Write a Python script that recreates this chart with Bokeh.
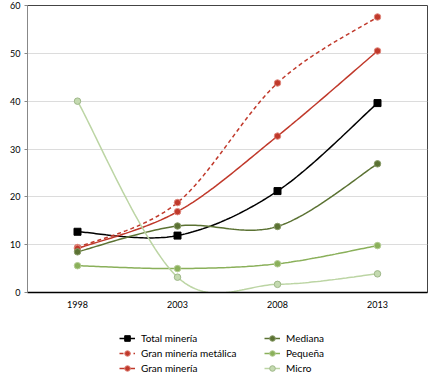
import numpy as np
from bokeh.plotting import figure
from bokeh.layouts import column
from bokeh.models import Range1d, FixedTicker, Legend, LegendItem
from bokeh.embed import file_html
from bokeh.resources import INLINE

years = [1998, 2003, 2008, 2013]
total_mineria = [12.7, 11.9, 21.2, 39.6]
gran_metalica = [9.4, 18.8, 43.8, 57.6]
gran_mineria = [9.2, 16.9, 32.7, 50.5]
mediana = [8.5, 13.9, 13.8, 26.9]
pequena = [5.6, 5.0, 6.0, 9.8]
micro = [40.0, 3.2, 1.7, 3.9]
y_ticks = [0, 10, 20, 30, 40, 50, 60]

FONT = "Lato"


def smooth(xs, ys, n=40):
    xs = np.asarray(xs, float)
    ys = np.asarray(ys, float)
    px = np.concatenate([[xs[0]], xs, [xs[-1]]])
    py = np.concatenate([[ys[0]], ys, [ys[-1]]])
    ox, oy = [], []
    t = np.linspace(0, 1, n)
    for i in range(1, len(px) - 2):
        x0, x1, x2, x3 = px[i - 1], px[i], px[i + 1], px[i + 2]
        y0, y1, y2, y3 = py[i - 1], py[i], py[i + 1], py[i + 2]
        cx1 = x1 + (x2 - x0) / 6
        cy1 = y1 + (y2 - y0) / 6
        cx2 = x2 - (x3 - x1) / 6
        cy2 = y2 - (y3 - y1) / 6
        bx = (1 - t) ** 3 * x1 + 3 * (1 - t) ** 2 * t * cx1 + 3 * (1 - t) * t ** 2 * cx2 + t ** 3 * x2
        by = (1 - t) ** 3 * y1 + 3 * (1 - t) ** 2 * t * cy1 + 3 * (1 - t) * t ** 2 * cy2 + t ** 3 * y2
        ox.extend(bx if i == 1 else bx[1:])
        oy.extend(by if i == 1 else by[1:])
    return ox, oy


p = figure(frame_width=400, frame_height=287, output_backend="svg", toolbar_location=None,
           x_range=Range1d(1995.5, 2015.5), y_range=Range1d(0, 60),
           min_border_left=27, min_border_right=4, min_border_top=5, min_border_bottom=30)
p.background_fill_color = "white"
p.border_fill_color = "white"
p.outline_line_color = "#444444"
p.outline_line_width = 1

p.xgrid.grid_line_color = None
p.ygrid.grid_line_color = "#dcdcdc"
p.ygrid.grid_line_width = 1

p.xaxis.ticker = FixedTicker(ticks=years)
p.yaxis.ticker = FixedTicker(ticks=y_ticks)
p.xaxis.axis_line_color = "black"
p.xaxis.axis_line_width = 1.5
p.xaxis.major_tick_line_color = None
p.xaxis.minor_tick_line_color = None
p.yaxis.axis_line_color = "#888888"
p.yaxis.major_tick_line_color = "#888888"
p.yaxis.major_tick_out = 3
p.yaxis.major_tick_in = 0
p.yaxis.minor_tick_line_color = None
for ax in (p.xaxis, p.yaxis):
    ax.major_label_text_font = FONT
    ax.major_label_text_font_size = "9px"
    ax.major_label_text_color = "black"
p.xaxis.major_label_standoff = 2
p.yaxis.major_label_standoff = 4

series = [
    ("Total minería", total_mineria, "black", "solid", "square", "black", "black"),
    ("Gran minería metálica", gran_metalica, "#c0392b", "4 3", "circle", "#c0392b", "#e08a80"),
    ("Gran minería", gran_mineria, "#c0392b", "solid", "circle", "#c0392b", "#e08a80"),
    ("Mediana", mediana, "#5b7233", "solid", "circle", "#5b7233", "#8a9c6a"),
    ("Pequeña", pequena, "#8ab05a", "solid", "circle", "#8ab05a", "#b5cd95"),
    ("Micro", micro, "#bcd5a4", "solid", "circle", "#c4dab0", "#9fb88a"),
]

# legend panel below the chart; its ranges keep the series out of view
lg = figure(width=431, height=55, output_backend="svg", toolbar_location=None,
            x_range=Range1d(0, 1), y_range=Range1d(0, 1),
            x_axis_location=None, y_axis_location=None,
            min_border_left=0, min_border_right=0, min_border_top=0, min_border_bottom=0)
lg.outline_line_color = None
lg.grid.grid_line_color = None
lg.background_fill_color = "white"
lg.border_fill_color = "white"

items = []
for name, ys, col, dash, marker, fill, edge in series:
    sx, sy = smooth(years, ys)
    sz = 7 if marker == "square" else 6.5
    p.line(sx, sy, line_color=col, line_width=1.5, line_dash=dash)
    p.scatter(years, ys, marker=marker, size=sz,
              fill_color=fill, line_color=edge, line_width=1)
    l1 = lg.line(years, ys, line_color=col, line_width=1.5, line_dash=dash)
    l2 = lg.scatter(years, ys, marker=marker, size=sz,
                    fill_color=fill, line_color=edge, line_width=1)
    items.append(LegendItem(label=name, renderers=[l1, l2]))

legend = Legend(items=items, ncols=2, orientation="vertical",
                label_text_font=FONT, label_text_font_size="10px",
                label_text_color="black",
                glyph_width=16, glyph_height=14, spacing=1,
                label_standoff=6, padding=0, margin=0, label_width=122,
                border_line_color=None, background_fill_alpha=0,
                location=(92, 2))
legend.label_height = 14
lg.add_layout(legend, "center")

layout = column(p, lg, spacing=0)
open("out.html", "w").write(file_html(layout, INLINE))
